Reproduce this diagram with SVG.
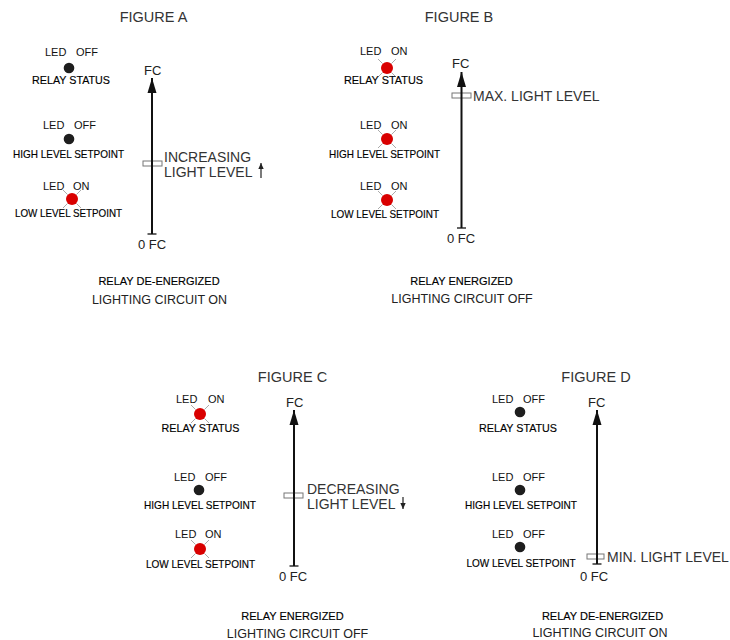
<svg xmlns="http://www.w3.org/2000/svg" xmlns:xlink="http://www.w3.org/1999/xlink" width="730" height="640" viewBox="0 0 730 640">
<style>
  .title{font-family:"Liberation Sans",Arial,sans-serif;font-size:14.5px;fill:#333;text-anchor:middle}
  .led{font-family:"Liberation Sans",Arial,sans-serif;font-size:11px;fill:#111}
  .lab{font-family:"Liberation Sans",Arial,sans-serif;font-size:10.5px;fill:#000;text-anchor:middle;stroke:#000;stroke-width:0.15}
  .fc{font-family:"Liberation Sans",Arial,sans-serif;font-size:13px;fill:#222}
  .big{font-family:"Liberation Sans",Arial,sans-serif;font-size:14px;fill:#333}
  .cap1{font-family:"Liberation Sans",Arial,sans-serif;font-size:11px;fill:#000;text-anchor:middle;stroke:#000;stroke-width:0.15}
  .cap2{font-family:"Liberation Sans",Arial,sans-serif;font-size:12.5px;fill:#222;text-anchor:middle}
  .axis{stroke:#111;stroke-width:2;fill:none}
  .tick{stroke:#111;stroke-width:1.3}
  .mark{fill:none;stroke:#777;stroke-width:1}
  .small{stroke:#222;stroke-width:1.2}
</style>
<defs>
  <marker id="head" markerUnits="userSpaceOnUse" markerWidth="16" markerHeight="10" refX="15" refY="5" orient="auto" viewBox="0 0 16 10">
    <path d="M15 5 L0 0.5 L0 9.5 Z" fill="#111"/>
  </marker>
  <marker id="shead" markerUnits="userSpaceOnUse" markerWidth="7" markerHeight="6" refX="6" refY="3" orient="auto" viewBox="0 0 7 6">
    <path d="M6 3 L0 0.3 L0 5.7 Z" fill="#222"/>
  </marker>
  <g id="ledOn">
    <g stroke="#aaa" stroke-width="1">
      <line x1="-4.5" y1="-4.5" x2="-9" y2="-9"/>
      <line x1="4.5" y1="-4.5" x2="9" y2="-9"/>
      <line x1="-4.5" y1="4.5" x2="-9" y2="9"/>
      <line x1="4.5" y1="4.5" x2="9" y2="9"/>
    </g>
    <circle r="6" fill="#d90000"/>
  </g>
  <g id="ledOff">
    <circle r="5.3" fill="#1e1e1e"/>
  </g>
</defs>

<!-- FIGURE A -->
<g id="figureA">
  <text class="title" x="153.5" y="22">FIGURE A</text>
  <g id="A-relay">
    <text class="led" y="56"><tspan x="45">LED</tspan><tspan x="76">OFF</tspan></text>
    <use xlink:href="#ledOff" x="69" y="68"/>
    <text class="lab" x="71" y="84" textLength="78" lengthAdjust="spacingAndGlyphs">RELAY STATUS</text>
  </g>
  <g id="A-high">
    <text class="led" y="129"><tspan x="43">LED</tspan><tspan x="74">OFF</tspan></text>
    <use xlink:href="#ledOff" x="69" y="139"/>
    <text class="lab" x="68.5" y="158" textLength="111" lengthAdjust="spacingAndGlyphs">HIGH LEVEL SETPOINT</text>
  </g>
  <g id="A-low">
    <text class="led" y="190"><tspan x="43">LED</tspan><tspan x="73">ON</tspan></text>
    <use xlink:href="#ledOn" x="72" y="199"/>
    <text class="lab" x="68.5" y="217" textLength="107" lengthAdjust="spacingAndGlyphs">LOW LEVEL SETPOINT</text>
  </g>
  <g id="A-scale">
    <text class="fc" x="144" y="75">FC</text>
    <text class="fc" x="138" y="249">0 FC</text>
    <rect class="mark" x="143" y="161" width="19" height="5"/>
    <text class="big" x="164" y="162">INCREASING</text>
    <text class="big" x="164" y="177">LIGHT LEVEL</text>
  </g>
  <text class="cap1" x="159" y="285">RELAY DE-ENERGIZED</text>
  <text class="cap2" x="159.5" y="304">LIGHTING CIRCUIT ON</text>
</g>

<!-- FIGURE B -->
<g id="figureB">
  <text class="title" x="459" y="22">FIGURE B</text>
  <g id="B-relay">
    <text class="led" y="55"><tspan x="360">LED</tspan><tspan x="391">ON</tspan></text>
    <use xlink:href="#ledOn" x="387" y="68"/>
    <text class="lab" x="383.5" y="84" textLength="79" lengthAdjust="spacingAndGlyphs">RELAY STATUS</text>
  </g>
  <g id="B-high">
    <text class="led" y="129"><tspan x="360">LED</tspan><tspan x="391">ON</tspan></text>
    <use xlink:href="#ledOn" x="387" y="139"/>
    <text class="lab" x="384.5" y="158" textLength="111" lengthAdjust="spacingAndGlyphs">HIGH LEVEL SETPOINT</text>
  </g>
  <g id="B-low">
    <text class="led" y="190"><tspan x="360">LED</tspan><tspan x="391">ON</tspan></text>
    <use xlink:href="#ledOn" x="387" y="200"/>
    <text class="lab" x="385" y="218" textLength="108" lengthAdjust="spacingAndGlyphs">LOW LEVEL SETPOINT</text>
  </g>
  <g id="B-scale">
    <text class="fc" x="452" y="68">FC</text>
    <text class="fc" x="447" y="243">0 FC</text>
    <rect class="mark" x="452" y="93" width="19" height="5"/>
    <text class="big" x="473" y="101">MAX. LIGHT LEVEL</text>
  </g>
  <text class="cap1" x="461.5" y="285">RELAY ENERGIZED</text>
  <text class="cap2" x="462" y="303">LIGHTING CIRCUIT OFF</text>
</g>

<!-- FIGURE C -->
<g id="figureC">
  <text class="title" x="292.5" y="382">FIGURE C</text>
  <g id="C-relay">
    <text class="led" y="403"><tspan x="176">LED</tspan><tspan x="208">ON</tspan></text>
    <use xlink:href="#ledOn" x="200" y="414"/>
    <text class="lab" x="200.5" y="432" textLength="78" lengthAdjust="spacingAndGlyphs">RELAY STATUS</text>
  </g>
  <g id="C-high">
    <text class="led" y="481"><tspan x="174">LED</tspan><tspan x="205">OFF</tspan></text>
    <use xlink:href="#ledOff" x="199" y="490"/>
    <text class="lab" x="200" y="509" textLength="112" lengthAdjust="spacingAndGlyphs">HIGH LEVEL SETPOINT</text>
  </g>
  <g id="C-low">
    <text class="led" y="538"><tspan x="175">LED</tspan><tspan x="205">ON</tspan></text>
    <use xlink:href="#ledOn" x="200" y="549"/>
    <text class="lab" x="200.5" y="568" textLength="109" lengthAdjust="spacingAndGlyphs">LOW LEVEL SETPOINT</text>
  </g>
  <g id="C-scale">
    <text class="fc" x="286" y="407">FC</text>
    <text class="fc" x="279" y="581">0 FC</text>
    <rect class="mark" x="284" y="493" width="19" height="5"/>
    <text class="big" x="307" y="494">DECREASING</text>
    <text class="big" x="307" y="509">LIGHT LEVEL</text>
  </g>
  <text class="cap1" x="292.5" y="620">RELAY ENERGIZED</text>
  <text class="cap2" x="297.5" y="638">LIGHTING CIRCUIT OFF</text>
</g>

<!-- FIGURE D -->
<g id="figureD">
  <text class="title" x="596" y="382">FIGURE D</text>
  <g id="D-relay">
    <text class="led" y="403"><tspan x="492">LED</tspan><tspan x="523">OFF</tspan></text>
    <use xlink:href="#ledOff" x="520" y="412"/>
    <text class="lab" x="518" y="432" textLength="78" lengthAdjust="spacingAndGlyphs">RELAY STATUS</text>
  </g>
  <g id="D-high">
    <text class="led" y="481"><tspan x="492">LED</tspan><tspan x="523">OFF</tspan></text>
    <use xlink:href="#ledOff" x="520" y="490"/>
    <text class="lab" x="521" y="509" textLength="112" lengthAdjust="spacingAndGlyphs">HIGH LEVEL SETPOINT</text>
  </g>
  <g id="D-low">
    <text class="led" y="538"><tspan x="492">LED</tspan><tspan x="523">OFF</tspan></text>
    <use xlink:href="#ledOff" x="520" y="547"/>
    <text class="lab" x="521" y="567" textLength="109" lengthAdjust="spacingAndGlyphs">LOW LEVEL SETPOINT</text>
  </g>
  <g id="D-scale">
    <text class="fc" x="588" y="407">FC</text>
    <text class="fc" x="580" y="581">0 FC</text>
    <rect class="mark" x="587" y="554" width="17" height="5"/>
    <text class="big" x="607" y="562">MIN. LIGHT LEVEL</text>
  </g>
  <text class="cap1" x="602.5" y="620">RELAY DE-ENERGIZED</text>
  <text class="cap2" x="600" y="637">LIGHTING CIRCUIT ON</text>
</g>

<!-- connectors: axes, ticks, direction arrows -->
<g id="connectors">
  <line class="axis" x1="152" y1="234" x2="152" y2="78" marker-end="url(#head)"/>
  <line class="tick" x1="147.5" y1="234" x2="156.5" y2="234"/>
  <line class="small" x1="261" y1="178" x2="261" y2="163" marker-end="url(#shead)"/>

  <line class="axis" x1="461.5" y1="228" x2="461.5" y2="72" marker-end="url(#head)"/>
  <line class="tick" x1="457" y1="228" x2="466" y2="228"/>

  <line class="axis" x1="294" y1="566" x2="294" y2="410" marker-end="url(#head)"/>
  <line class="tick" x1="289.5" y1="566" x2="298.5" y2="566"/>
  <line class="small" x1="403" y1="497" x2="403" y2="509" marker-end="url(#shead)"/>

  <line class="axis" x1="597" y1="564" x2="597" y2="410" marker-end="url(#head)"/>
  <line class="tick" x1="592.5" y1="564" x2="601.5" y2="564"/>
</g>
</svg>
